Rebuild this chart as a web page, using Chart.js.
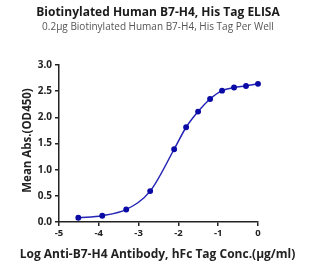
<!DOCTYPE html>
<html><head><meta charset="utf-8">
<script src="https://cdn.jsdelivr.net/npm/chart.js@4"></script>
<style>html,body{margin:0;padding:0;background:#fff}#c{display:block}</style>
</head><body>
<canvas id="c" width="329" height="276"></canvas>
<script>
const logConc = [-4.515, -3.913, -3.311, -2.709, -2.107, -1.806, -1.505, -1.204, -0.903, -0.602, -0.301, 0];
const meanAbs = [0.08, 0.12, 0.24, 0.59, 1.39, 1.81, 2.11, 2.35, 2.51, 2.57, 2.60, 2.64];
const titleText = 'Biotinylated Human B7-H4, His Tag ELISA';
const subtitleText = '0.2µg Biotinylated Human B7-H4, His Tag Per Well';
const xTitle = 'Log Anti-B7-H4 Antibody, hFc Tag Conc.(µg/ml)';
const yTitle = 'Mean Abs.(OD450)';
const FONT = "'Open Sans', 'Noto Sans', sans-serif";

const axisTitles = {
  id: 'axisTitles',
  afterDraw(chart) {
    const ctx = chart.ctx, a = chart.chartArea;
    ctx.save();
    ctx.fillStyle = '#222';
    ctx.textAlign = 'center';
    ctx.textBaseline = 'middle';
    ctx.font = "bold 12px " + FONT;
    ctx.fillText(xTitle, (a.left + a.right) / 2 - 1, 255);
    ctx.translate(27.5, 140.5);
    ctx.rotate(-Math.PI / 2);
    ctx.font = "bold 11.5px " + FONT;
    ctx.fillText(yTitle, 0, 0);
    ctx.restore();
  }
};

new Chart(document.getElementById('c'), {
  type: 'line',
  data: {
    datasets: [{
      data: logConc.map((x, i) => ({x, y: meanAbs[i]})),
      borderColor: '#2424b4',
      borderWidth: 1.5,
      pointBackgroundColor: '#0a0aa6',
      pointBorderColor: '#0a0aa6',
      pointRadius: 2.2,
      cubicInterpolationMode: 'monotone',
      clip: false
    }]
  },
  plugins: [axisTitles],
  options: {
    responsive: false,
    animation: false,
    devicePixelRatio: 1,
    layout: {padding: {left: 0, right: 13, top: 0, bottom: 0}},
    plugins: {
      legend: {display: false},
      tooltip: {enabled: false},
      title: {display: true, text: titleText, color: '#1a1a1a',
        font: {family: FONT, size: 12, weight: 'bold'}, padding: {top: 5, bottom: 2}},
      subtitle: {display: true, text: subtitleText, color: '#555',
        font: {family: FONT, size: 10}, padding: {top: 0, bottom: 31.6}}
    },
    scales: {
      x: {
        type: 'linear', min: -5, max: 0,
        ticks: {stepSize: 1, color: '#222', font: {family: FONT, size: 9.5, weight: 'bold'}, padding: 2},
        grid: {drawOnChartArea: false, drawTicks: true, tickLength: 4, color: '#222', lineWidth: 1.5},
        border: {display: true, color: '#222', width: 1.5},
        afterFit: s => { s.height = 54; }
      },
      y: {
        type: 'linear', min: 0, max: 3,
        ticks: {stepSize: 0.5, color: '#222', font: {family: FONT, size: 10, weight: 'bold'}, padding: 3,
          callback: v => Number(v).toFixed(1)},
        grid: {drawOnChartArea: false, drawTicks: true, tickLength: 4, color: '#222', lineWidth: 1.5},
        border: {display: true, color: '#222', width: 1.5},
        afterFit: s => { s.width = 59; }
      },
      yPad: {
        type: 'linear', position: 'right', display: true,
        ticks: {display: false}, grid: {display: false}, border: {display: false},
        afterFit: s => { s.width = 58; }
      }
    }
  }
});
</script>
</body></html>
